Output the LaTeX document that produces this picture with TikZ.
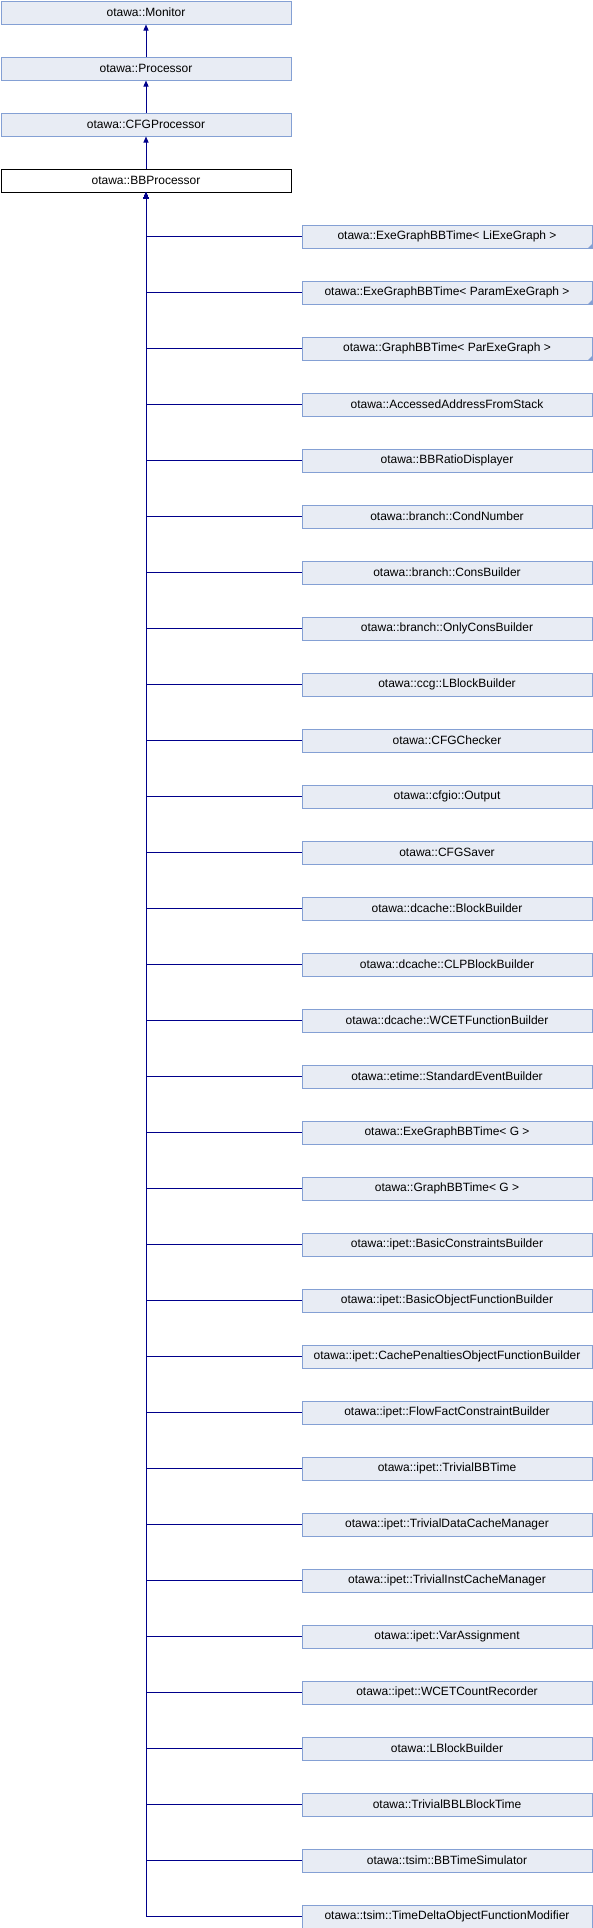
\documentclass[tikz,border=0pt]{standalone}
\usepackage{fontspec}
\setmainfont{Liberation Sans}
\usetikzlibrary{arrows.meta}
\definecolor{boxfill}{RGB}{232,236,244}
\definecolor{boxline}{RGB}{132,160,212}
\definecolor{connblue}{RGB}{0,0,139}
\begin{document}
\begin{tikzpicture}[x=1pt,y=1pt,
  cls/.style={draw=boxline, fill=boxfill, line width=1pt, minimum width=290pt, minimum height=23pt, inner sep=0pt, anchor=north west, font=\fontsize{12}{14}\selectfont},
  curcls/.style={cls, draw=black, fill=white},
  conn/.style={draw=connblue, line width=1pt, -{Triangle[width=5pt,length=6pt]}},
  tmark/.style={fill=boxline, draw=none}]
\useasboundingbox (0,0) rectangle (592,-1928);
\node[cls] (mon) at (0.5,-0.5) {otawa::Monitor};
\node[cls] (proc) at (0.5,-56.5) {otawa::Processor};
\node[cls] (cfgp) at (0.5,-112.5) {otawa::CFGProcessor};
\node[curcls] (bb) at (0.5,-168.5) {otawa::BBProcessor};
\draw[conn] (proc.north) -- (mon.south);
\draw[conn] (cfgp.north) -- (proc.south);
\draw[conn] (bb.north) -- (cfgp.south);
\foreach \t [count=\i from 0] in {
 {otawa::ExeGraphBBTime< LiExeGraph >},
 {otawa::ExeGraphBBTime< ParamExeGraph >},
 {otawa::GraphBBTime< ParExeGraph >},
 {otawa::AccessedAddressFromStack},
 {otawa::BBRatioDisplayer},
 {otawa::branch::CondNumber},
 {otawa::branch::ConsBuilder},
 {otawa::branch::OnlyConsBuilder},
 {otawa::ccg::LBlockBuilder},
 {otawa::CFGChecker},
 {otawa::cfgio::Output},
 {otawa::CFGSaver},
 {otawa::dcache::BlockBuilder},
 {otawa::dcache::CLPBlockBuilder},
 {otawa::dcache::WCETFunctionBuilder},
 {otawa::etime::StandardEventBuilder},
 {otawa::ExeGraphBBTime< G >},
 {otawa::GraphBBTime< G >},
 {otawa::ipet::BasicConstraintsBuilder},
 {otawa::ipet::BasicObjectFunctionBuilder},
 {otawa::ipet::CachePenaltiesObjectFunctionBuilder},
 {otawa::ipet::FlowFactConstraintBuilder},
 {otawa::ipet::TrivialBBTime},
 {otawa::ipet::TrivialDataCacheManager},
 {otawa::ipet::TrivialInstCacheManager},
 {otawa::ipet::VarAssignment},
 {otawa::ipet::WCETCountRecorder},
 {otawa::LBlockBuilder},
 {otawa::TrivialBBLBlockTime},
 {otawa::tsim::BBTimeSimulator},
 {otawa::tsim::TimeDeltaObjectFunctionModifier}} {
  \node[cls] (c\i) at (301.5,{-224.5-56*\i}) {\t};
  \draw[conn] (c\i.west) -| (bb.south);
}
\foreach \i in {0,1,2} {
  \fill[tmark] ([xshift=-4.5pt,yshift=0.5pt]c\i.south east) -- ([xshift=-0.5pt,yshift=0.5pt]c\i.south east) -- ([xshift=-0.5pt,yshift=4.5pt]c\i.south east) -- cycle;
}
\end{tikzpicture}
\end{document}
